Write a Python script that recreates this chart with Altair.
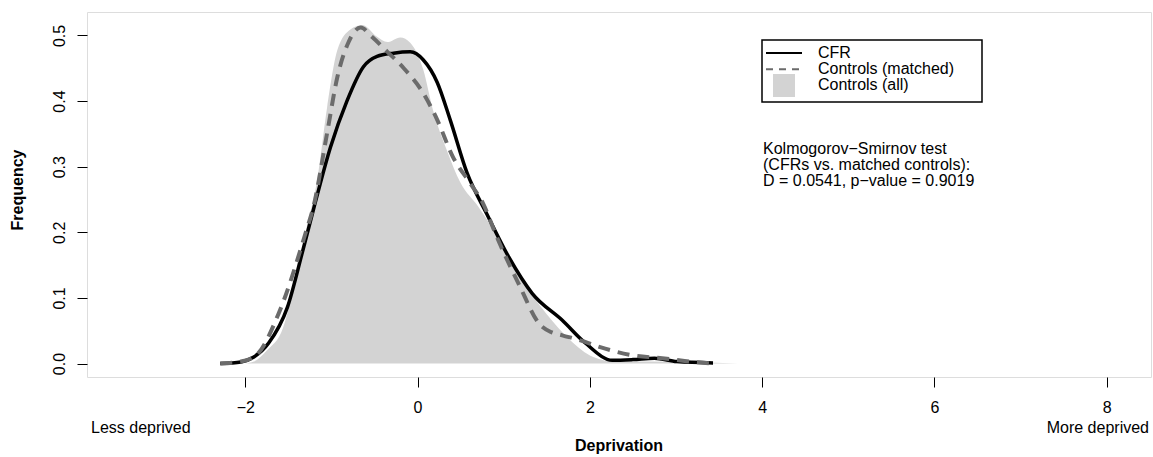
import altair as alt
import pandas as pd

# Controls (all) – grey filled density
all_x = [-2.0, -1.9, -1.75, -1.56, -1.42, -1.3, -1.16, -1.05, -0.93, -0.78, -0.64, -0.47, -0.35,
         -0.2, -0.085, 0.066, 0.18, 0.34, 0.5, 0.7, 0.9, 1.1, 1.3, 1.5, 1.77, 2.04, 2.3,
         2.7, 3.2, 3.72]
all_y = [0.0, 0.003, 0.02, 0.055, 0.127, 0.2, 0.284, 0.39, 0.478, 0.509, 0.516, 0.498, 0.49,
         0.497, 0.489, 0.448, 0.386, 0.325, 0.275, 0.24, 0.2, 0.155, 0.11, 0.075, 0.036,
         0.01, 0.003, 0.003, 0.002, 0.0]

# CFR – black solid density
cfr_x = [-2.29, -2.05, -1.9, -1.73, -1.51, -1.34, -1.2, -1.01, -0.82, -0.63, -0.47, -0.28,
         -0.085, 0.065, 0.23, 0.38, 0.576, 0.8, 1.06, 1.33, 1.68, 1.95, 2.26, 2.5, 2.75, 3.01, 3.43]
cfr_y = [0.0, 0.0025, 0.01, 0.031, 0.086, 0.168, 0.239, 0.33, 0.40, 0.452, 0.468, 0.473,
         0.475, 0.463, 0.428, 0.371, 0.29, 0.229, 0.162, 0.107, 0.066, 0.031, 0.005, 0.006,
         0.008, 0.003, 0.001]

# Controls (matched) – grey dashed density
mat_x = [-2.29, -2.05, -1.87, -1.61, -1.29, -1.21, -1.05, -0.93, -0.80, -0.66, -0.53, -0.35,
         -0.16, 0.066, 0.23, 0.41, 0.61, 0.76, 0.92, 1.19, 1.41, 1.55, 1.68, 1.9, 2.12, 2.48,
         2.84, 3.1, 3.41]
mat_y = [0.0, 0.003, 0.013, 0.077, 0.203, 0.238, 0.351, 0.437, 0.49, 0.512, 0.498, 0.475,
         0.45, 0.412, 0.371, 0.315, 0.275, 0.244, 0.193, 0.117, 0.061, 0.048, 0.043, 0.035,
         0.025, 0.013, 0.008, 0.004, 0.0]

x_ticks = [-2, 0, 2, 4, 6, 8]
y_ticks = [0.0, 0.1, 0.2, 0.3, 0.4, 0.5]
legend_labels = ["CFR", "Controls (matched)", "Controls (all)"]
ks_lines = ["Kolmogorov\u2212Smirnov test", "(CFRs vs. matched controls):",
            "D = 0.0541, p\u2212value = 0.9019"]

FONT = "Liberation Sans"
W, H = 1064, 365

xs = alt.Scale(domain=[-3.837, 8.514], nice=False, zero=False)
ys = alt.Scale(domain=[-0.0205, 0.5357], nice=False, zero=False)

df_all = pd.DataFrame({"x": all_x, "y": all_y})
df_cfr = pd.DataFrame({"x": cfr_x, "y": cfr_y})
df_mat = pd.DataFrame({"x": mat_x, "y": mat_y})

xaxis = alt.Axis(values=x_ticks, title=None, grid=False, domain=False, tickSize=10,
                 tickColor="black", labelColor="black", labelFont=FONT, labelFontSize=16,
                 labelPadding=12, format="d", labelExpr="replace(datum.label, '-', '\u2212')")
yaxis = alt.Axis(values=y_ticks, title=None, grid=False, domain=False, tickSize=10,
                 tickColor="black", labelColor="black", labelFont=FONT, labelFontSize=16,
                 labelAngle=270, labelAlign="center", labelBaseline="alphabetic",
                 labelPadding=13, format=".1f")

area = alt.Chart(df_all).mark_area(color="#d3d3d3", interpolate="monotone").encode(
    x=alt.X("x:Q", scale=xs, axis=xaxis),
    y=alt.Y("y:Q", scale=ys, axis=yaxis),
)
cfr = alt.Chart(df_cfr).mark_line(color="black", strokeWidth=3.5, interpolate="monotone").encode(
    x=alt.X("x:Q", scale=xs), y=alt.Y("y:Q", scale=ys))
mat = alt.Chart(df_mat).mark_line(color="#6b6b6b", strokeWidth=4, strokeDash=[12, 8],
                                  interpolate="monotone").encode(
    x=alt.X("x:Q", scale=xs), y=alt.Y("y:Q", scale=ys))

one = pd.DataFrame({"a": [0]})

def txt(s, x, y, size=16, **kw):
    params = dict(text=s, font=FONT, fontSize=size, color="black", baseline="middle", align="left")
    params.update(kw)
    return alt.Chart(one).mark_text(**params).encode(x=alt.value(x), y=alt.value(y))

LS = 16.2  # line spacing of legend / annotation text

# Legend
box = alt.Chart(one).mark_rect(fill="white", stroke="black", strokeWidth=1.5).encode(
    x=alt.value(675), x2=alt.value(895), y=alt.value(28), y2=alt.value(90))
leg_line1 = alt.Chart(one).mark_rule(color="black", strokeWidth=2).encode(
    x=alt.value(679), x2=alt.value(715), y=alt.value(41))
leg_line2 = alt.Chart(one).mark_rule(color="#6b6b6b", strokeWidth=2, strokeDash=[7, 6]).encode(
    x=alt.value(679), x2=alt.value(715), y=alt.value(41 + LS))
leg_sq = alt.Chart(one).mark_rect(fill="#d3d3d3").encode(
    x=alt.value(686), x2=alt.value(708), y=alt.value(62), y2=alt.value(85))
leg_texts = [txt(legend_labels[i], 731, 41 + LS * i) for i in range(3)]

ks_texts = [txt(ks_lines[i], 676, 137 + LS * i) for i in range(3)]

less = txt("Less deprived", 4, 416)
more = txt("More deprived", 1062, 416, align="right")
xtitle = txt("Deprivation", 532, 434, align="center", fontWeight="bold")
ytitle = txt("Frequency", -69, 178, align="center", fontWeight="bold", angle=270)

chart = alt.layer(
    area, cfr, mat, box, leg_line1, leg_line2, leg_sq, *leg_texts, *ks_texts,
    less, more, xtitle, ytitle
).properties(
    width=W, height=H,
    autosize=alt.AutoSizeParams(type="none"),
    padding={"left": 87, "top": 12, "right": 2, "bottom": 80},
).configure_view(stroke="#222", strokeWidth=1.5).configure(background="white")

chart.save("out.html", embed_options={"renderer": "svg", "actions": False})
